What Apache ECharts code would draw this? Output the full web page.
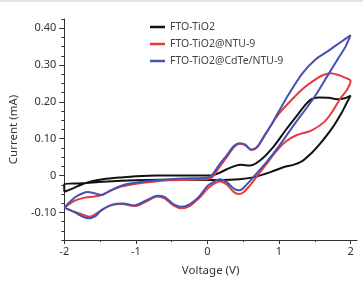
<!DOCTYPE html>
<html>
<head>
<meta charset="utf-8">
<script src="https://cdn.jsdelivr.net/npm/echarts@6/dist/echarts.min.js"></script>
<style>
  html, body { margin: 0; padding: 0; background: #fff; }
  #chart { width: 363px; height: 282px; }
</style>
</head>
<body>
<div id="chart"></div>
<script>
// 各样品循环伏安曲线 (电压 V, 电流 mA)，先正扫后回扫
var seriesNames = ['FTO-TiO2', 'FTO-TiO2@NTU-9', 'FTO-TiO2@CdTe/NTU-9'];

var blackV = [-2, -1.87, -1.74, -1.6, -1.46, -1.2, -1.0, -0.7, -0.36, 0.03, 0.15, 0.27, 0.4, 0.47, 0.59, 0.73, 0.91, 1.1, 1.26, 1.36, 1.45, 1.55, 1.7, 1.81, 1.92, 2.0,
  1.94, 1.88, 1.74, 1.56, 1.45, 1.33, 1.2, 1.07, 0.93, 0.8, 0.64, 0.45, 0.2, 0.0, -0.36, -1.0, -1.46, -1.74, -2.0, -2.0];
var blackI = [-0.044, -0.034, -0.023, -0.015, -0.010, -0.005, -0.002, 0.0, 0.0, 0.0, 0.006, 0.017, 0.027, 0.029, 0.027, 0.040, 0.075, 0.125, 0.165, 0.19, 0.207, 0.212, 0.211, 0.207, 0.210, 0.217,
  0.195, 0.172, 0.128, 0.083, 0.060, 0.040, 0.029, 0.023, 0.013, 0.004, -0.005, -0.010, -0.012, -0.012, -0.011, -0.013, -0.017, -0.021, -0.023, -0.044];

var redV = [-2, -1.85, -1.71, -1.58, -1.48, -1.35, -1.21, -1.02, -0.87, -0.54, -0.2, 0.0, 0.07, 0.15, 0.27, 0.37, 0.45, 0.53, 0.61, 0.69, 0.8, 0.9, 1.0, 1.1, 1.33, 1.51, 1.62, 1.72, 1.83, 1.92, 2.0,
  1.95, 1.86, 1.75, 1.63, 1.45, 1.25, 1.1, 0.96, 0.82, 0.68, 0.58, 0.5, 0.44, 0.37, 0.27, 0.17, 0.08, 0.0, -0.12, -0.25, -0.36, -0.47, -0.6, -0.7, -0.85, -1.02, -1.2, -1.35, -1.48, -1.58, -1.65, -1.72, -1.85, -2.0];
var redI = [-0.087, -0.068, -0.060, -0.057, -0.053, -0.041, -0.030, -0.023, -0.019, -0.013, -0.011, -0.010, -0.004, 0.018, 0.050, 0.077, 0.086, 0.082, 0.070, 0.076, 0.108, 0.140, 0.168, 0.190, 0.235, 0.261, 0.273, 0.278, 0.273, 0.266, 0.257,
  0.233, 0.210, 0.175, 0.145, 0.122, 0.110, 0.093, 0.066, 0.030, -0.005, -0.030, -0.046, -0.050, -0.045, -0.024, -0.016, -0.024, -0.036, -0.062, -0.083, -0.089, -0.082, -0.062, -0.057, -0.070, -0.083, -0.077, -0.081, -0.094, -0.107, -0.112, -0.108, -0.099, -0.087];

var blueV = [-2, -1.85, -1.74, -1.67, -1.58, -1.48, -1.35, -1.16, -0.98, -0.7, -0.36, 0.0, 0.06, 0.15, 0.27, 0.37, 0.45, 0.53, 0.61, 0.69, 0.8, 0.9, 1.0, 1.14, 1.33, 1.51, 1.7, 1.86, 2.0,
  1.93, 1.85, 1.7, 1.49, 1.2, 1.0, 0.82, 0.66, 0.55, 0.45, 0.38, 0.27, 0.17, 0.08, 0.0, -0.12, -0.25, -0.36, -0.47, -0.6, -0.7, -0.85, -1.02, -1.18, -1.33, -1.48, -1.55, -1.65, -1.74, -1.85, -2.0];
var blueI = [-0.087, -0.059, -0.048, -0.045, -0.048, -0.053, -0.040, -0.025, -0.019, -0.013, -0.008, -0.006, 0.0, 0.025, 0.055, 0.080, 0.088, 0.084, 0.070, 0.077, 0.110, 0.140, 0.175, 0.222, 0.278, 0.315, 0.340, 0.362, 0.381,
  0.350, 0.325, 0.278, 0.212, 0.135, 0.080, 0.035, 0.0, -0.024, -0.040, -0.037, -0.018, -0.010, -0.018, -0.028, -0.058, -0.078, -0.085, -0.078, -0.058, -0.055, -0.067, -0.081, -0.076, -0.079, -0.094, -0.108, -0.116, -0.112, -0.100, -0.087];

var xMajorTicks = [-2, -1, 0, 1, 2];
var xMinorTicks = [-1.5, -0.5, 0.5, 1.5];
var yMajorTicks = [-0.1, 0, 0.1, 0.2, 0.3, 0.4];

var fontFamily = '"Noto Sans", sans-serif';
var axisColor = '#333';
var textColor = '#333';

function zip(xs, ys) {
  var out = [];
  for (var i = 0; i < xs.length; i++) {
    out.push([xs[i], ys[i]]);
  }
  return out;
}

var chart = echarts.init(document.getElementById('chart'), null, { renderer: 'canvas' });

var colors = ['#111111', '#e8393d', '#4552b3'];
var loops = [zip(blackV, blackI), zip(redV, redI), zip(blueV, blueI)];

var series = [];
for (var s = 0; s < loops.length; s++) {
  series.push({
    name: seriesNames[s],
    type: 'line',
    data: loops[s],
    symbol: 'none',
    smooth: 0.3,
    smoothMonotone: null,
    lineStyle: { color: colors[s], width: 2 },
    itemStyle: { color: colors[s] }
  });
}

var option = {
  animation: false,
  backgroundColor: '#fff',
  textStyle: { fontFamily: fontFamily },
  graphic: [{
    type: 'rect',
    shape: { x: 0, y: 0, width: 363, height: 2 },
    style: { fill: '#e6e3da' },
    silent: true
  }],
  legend: {
    orient: 'vertical',
    left: 145,
    top: 16,
    icon: 'rect',
    itemWidth: 15,
    itemHeight: 2.5,
    itemGap: 5,
    data: seriesNames,
    textStyle: { color: '#444', fontSize: 10.5, lineHeight: 12, fontFamily: fontFamily }
  },
  grid: { left: 61, right: 6, top: 19, bottom: 38 },
  xAxis: [{
    type: 'value',
    min: -2,
    max: 2.09,
    name: 'Voltage (V)',
    nameLocation: 'middle',
    nameGap: 25,
    nameTextStyle: { color: textColor, fontSize: 11.5 },
    splitLine: { show: false },
    axisLine: { onZero: false, lineStyle: { color: axisColor, width: 1 } },
    axisTick: { customValues: xMajorTicks, length: 4, lineStyle: { color: axisColor } },
    axisLabel: { customValues: xMajorTicks, color: textColor, fontSize: 11, margin: 6 }
  }, {
    type: 'value',
    min: -2,
    max: 2.09,
    position: 'bottom',
    splitLine: { show: false },
    axisLine: { show: false, onZero: false },
    axisTick: { customValues: xMinorTicks, length: 2, lineStyle: { color: axisColor } },
    axisLabel: { show: false }
  }],
  yAxis: [{
    type: 'value',
    min: -0.175,
    max: 0.425,
    name: 'Current (mA)',
    nameLocation: 'middle',
    nameGap: 44,
    nameTextStyle: { color: textColor, fontSize: 11.5 },
    splitLine: { show: false },
    axisLine: { show: true, onZero: false, lineStyle: { color: axisColor, width: 1 } },
    axisTick: { customValues: yMajorTicks, length: 5, lineStyle: { color: axisColor } },
    axisLabel: {
      customValues: yMajorTicks,
      color: textColor,
      fontSize: 11,
      margin: 8,
      formatter: function (v) {
        if (Math.abs(v) < 1e-9) return '0';
        return v.toFixed(2);
      }
    }
  }, {
    type: 'value',
    min: -0.175,
    max: 0.425,
    interval: 0.025,
    position: 'left',
    splitLine: { show: false },
    axisLine: { show: false, onZero: false },
    axisTick: { length: 3, lineStyle: { color: axisColor } },
    axisLabel: { show: false }
  }],
  series: series
};

chart.setOption(option);
</script>
</body>
</html>
